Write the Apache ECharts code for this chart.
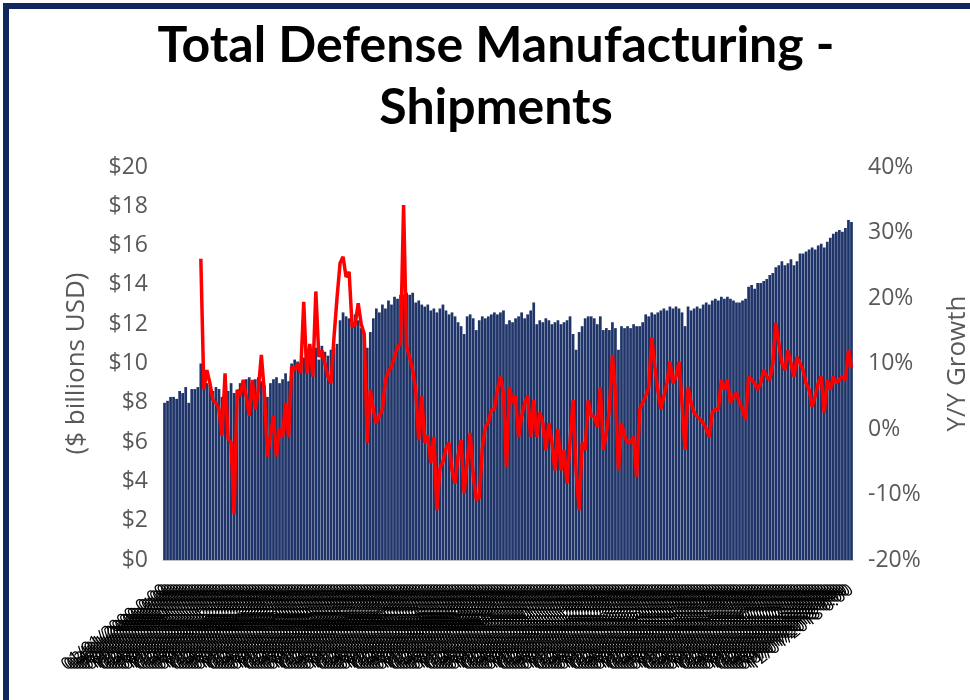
<!DOCTYPE html>
<html>
<head>
<meta charset="utf-8">
<script src="https://cdn.jsdelivr.net/npm/echarts@6/dist/echarts.min.js"></script>
<style>
  html, body { margin: 0; padding: 0; background: #ffffff; overflow: hidden; }
  #frame { position: absolute; left: 3px; top: 3px; width: 990px; height: 720px; border: 6px solid #13275f; }
  #chart { position: absolute; left: 0; top: 0; width: 992px; height: 700px; }
</style>
</head>
<body>
<div id="frame"></div>
<div id="chart"></div>
<script>
// Monthly shipments, $ billions USD (Jan 2000 onward, 228 months)
const shipments = [
  8.0, 8.1, 8.3, 8.3, 8.2, 8.6, 8.5, 8.8, 8.0, 8.7, 8.7, 8.8,
  10.0,
  8.7, 9.0, 8.9, 8.6, 8.8, 8.7, 8.3, 8.9, 8.6, 9.0, 8.5, 8.4, 9.0,
  9.1, 9.2, 9.3, 9.0, 9.2, 9.3, 9.1, 8.9, 8.3, 9.0,
  9.2, 9.3, 9.0, 9.2, 9.5, 9.1,
  10.0, 10.2, 10.1, 9.8, 10.3, 10.0,
  10.6, 10.4, 10.8, 10.2, 10.9, 10.6, 10.4, 10.7,
  10.8, 11.0,
  12.2, 12.6, 12.4, 12.3, 12.0, 12.5, 12.2,
  11.8, 11.5, 10.8, 11.6,
  12.3, 12.8, 12.6, 13.0, 12.8, 13.2, 13.0, 13.4, 13.3, 13.5,
  13.5, 13.6, 13.5, 13.6, 13.1,
  13.2, 13.0, 12.9, 13.0, 12.7, 12.8, 12.6, 12.8, 13.0,
  12.7, 12.5, 12.6, 12.4, 12.1, 11.9, 11.5,
  12.4, 12.5, 12.3, 11.7, 12.2, 12.4, 12.3, 12.4,
  12.5, 12.6, 12.5, 12.6, 12.7, 12.0,
  12.2, 12.1, 12.3, 12.4, 12.6, 12.3, 12.5, 12.7, 13.1,
  12.0, 12.2, 12.1, 12.3, 12.2, 12.0, 12.1, 12.2,
  12.0, 12.1, 12.2, 12.4, 11.5,
  10.7, 11.6,
  11.9, 12.3, 12.4, 12.4, 12.3, 12.0, 12.4, 11.7,
  11.8, 11.7, 12.1, 11.8, 10.7, 11.9, 11.8, 11.9,
  11.8, 12.0, 11.9, 11.9, 12.1,
  12.5, 12.4, 12.6, 12.5, 12.6, 12.7, 12.8, 12.7, 12.9, 12.8, 12.9, 12.8, 12.6, 11.9,
  12.9, 12.7, 12.8, 12.9, 12.8, 13.0, 13.1, 13.0, 13.2, 13.3, 13.2, 13.4, 13.3, 13.4,
  13.3, 13.2, 13.1, 13.1, 13.2, 13.3,
  13.9, 14.0, 13.8, 14.1, 14.1, 14.2, 14.3, 14.5, 14.6, 14.9,
  15.0, 15.2, 15.0, 15.1, 15.3, 15.0, 15.2, 15.6,
  15.6, 15.7, 15.8, 15.9, 15.8, 16.0, 16.1, 15.9, 16.2, 16.4,
  16.6, 16.7, 16.8, 16.7, 16.9, 17.3, 17.2
];

// Y/Y growth, % (first 12 months have no prior-year value)
const growth = [
  null, null, null, null, null, null, null, null, null, null, null, null,
  26, 6, 9, 7, 4.4, 4, 3, -1, 8.5, -1.5, -2, -13, 6, 5, 7.5, 5, 2, 7.5, 3, 6,
  11.3, 5.5, -4.2, -1, 2, -4.2, 0, -1.2, 4, -1.2, 9.5, 9, 10, 8.5, 19.4, 8.5,
  13, 8, 21, 11, 12, 10, 8, 7, 14, 20, 25.3, 26.3, 23.2, 24, 15.6, 16,
  19.2, 16, 14.5, -2.1, 6, 3, 0.9, 2, 3, 7.5, 8.8, 9.5, 11, 12.5, 13, 34.2,
  12.5, 11, 9, 6, -1.7, 5, -2.1, -1, -5.2, -1.2, -12.4, -6, -5, -3, -2.1, -6.3,
  -8.3, -4, -1.7, -9.8, -5, -0.6, -7, -10.8, -10.5, -3, 0.3, 1, 2.9, 3, 6, 8,
  5.5, -5.8, 6.4, 4, 5, -1.2, 1.9, 4, 5, -1.2, 4.4, -1.2, 2.5, 1, -3.2, 0.9,
  -2, -6.3, 0, -6.3, -3.2, -8.3, -2, 4.4, -6.3, -12.4, -2.1, -3.2, 4.4, 2, 1.9, 0.3,
  6.4, -3.2, -0.6, 3, 11.3, 5.5, -6.3, 0.9, -1, -2.1, -2, -1.2, -7.3, 3, 4, 5,
  6.4, 14, 9.5, 6, 3, 5, 7, 10.3, 7, 8, 10.3, 4, -3.2, 6.4, 4, 2.5,
  1.9, 1.5, 0.9, 0, -1.2, 2.5, 3, 3, 7.5, 6, 7.5, 4, 5, 5.5, 4, 3,
  1.4, 8, 7.5, 7, 6, 7, 9, 8, 7.5, 10, 16.2, 13, 10, 9, 12, 10,
  8, 11, 10, 9, 7, 6, 3.4, 5, 7, 8, 2.5, 7.5, 6, 8, 7, 7.5,
  8, 7.5, 12, 9.5
];

// Category labels: monthly dates
const startYear = 2000;
const categories = [];
for (let k = 0; k < shipments.length; k++) {
  const y = startYear + Math.floor(k / 12);
  const m = (k % 12) + 1;
  categories.push((m < 10 ? '0' + m : m) + '/01/' + y + ' 0:00');
}

const leftTicks = { min: 0, max: 20, interval: 2 };
const rightTicks = { min: -20, max: 40, interval: 10 };

const font = "'Open Sans', 'Liberation Sans', sans-serif";
const chart = echarts.init(document.getElementById('chart'), null, { renderer: 'canvas' });
chart.setOption({
  animation: false,
  backgroundColor: 'transparent',
  title: {
    text: 'Total Defense Manufacturing -\nShipments',
    left: 'center',
    top: 10,
    textStyle: { fontFamily: "Lato, 'Open Sans', sans-serif", fontWeight: 'bold', fontSize: 50, lineHeight: 62, color: '#000000' }
  },
  grid: { left: 163, right: 139, top: 167, bottom: 140, containLabel: false, outerBoundsMode: 'none' },
  xAxis: {
    type: 'category',
    data: categories,
    axisTick: { show: false },
    axisLine: { show: true, lineStyle: { color: '#bfbfbf', width: 1 } },
    axisLabel: { interval: 0, rotate: 38, fontSize: 17, color: '#000000', fontFamily: font, margin: 28 }
  },
  yAxis: [
    {
      type: 'value', min: leftTicks.min, max: leftTicks.max, interval: leftTicks.interval,
      splitLine: { show: false }, axisLine: { show: false }, axisTick: { show: false },
      axisLabel: { formatter: v => '$' + v, fontSize: 23, color: '#595959', fontFamily: font, margin: 15 },
      name: '($ billions USD)', nameLocation: 'middle', nameGap: 73, nameRotate: 90,
      nameTextStyle: { fontSize: 26, color: '#595959', fontFamily: font }
    },
    {
      type: 'value', min: rightTicks.min, max: rightTicks.max, interval: rightTicks.interval,
      splitLine: { show: false }, axisLine: { show: false }, axisTick: { show: false },
      axisLabel: { formatter: v => v + '%', fontSize: 23, color: '#595959', fontFamily: font, margin: 15 },
      name: 'Y/Y Growth', nameLocation: 'middle', nameGap: 92, nameRotate: 90,
      nameTextStyle: { fontSize: 26, color: '#595959', fontFamily: font }
    }
  ],
  series: [
    {
      type: 'bar', data: shipments, yAxisIndex: 0,
      barCategoryGap: '10%',
      itemStyle: { color: '#1f3468' }
    },
    {
      type: 'line', data: growth, yAxisIndex: 1,
      symbol: 'none', lineStyle: { color: '#ff0000', width: 3.5 }, itemStyle: { color: '#ff0000' }
    }
  ]
});
</script>
</body>
</html>
